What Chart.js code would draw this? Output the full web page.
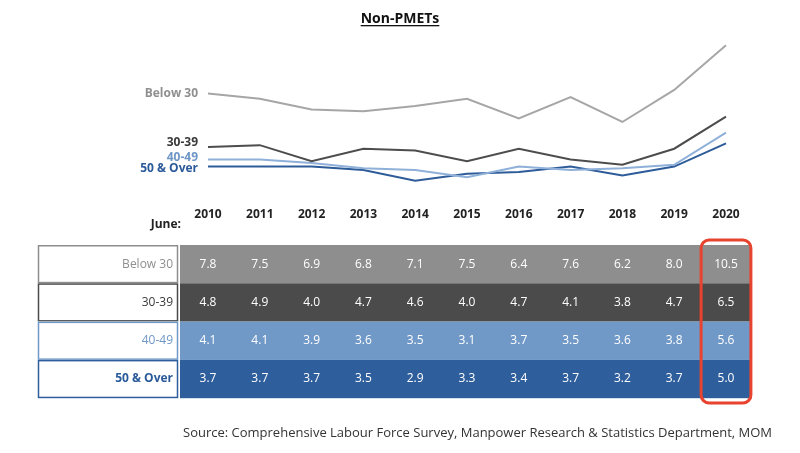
<!DOCTYPE html>
<html><head><meta charset="utf-8">
<script src="https://cdn.jsdelivr.net/npm/chart.js@4"></script>
<style>html,body{margin:0;padding:0;background:#fff}#w{position:relative;width:800px;height:453px}</style>
</head><body><div id="w"><canvas id="c" width="800" height="453"></canvas></div>
<script>
const years = ['2010','2011','2012','2013','2014','2015','2016','2017','2018','2019','2020'];
const seriesNames = ['Below 30','30-39','40-49','50 & Over'];
const below30 = [7.8,7.5,6.9,6.8,7.1,7.5,6.4,7.6,6.2,8.0,10.5];
const age3039 = [4.8,4.9,4.0,4.7,4.6,4.0,4.7,4.1,3.8,4.7,6.5];
const age4049 = [4.1,4.1,3.9,3.6,3.5,3.1,3.7,3.5,3.6,3.8,5.6];
const age50 = [3.7,3.7,3.7,3.5,2.9,3.3,3.4,3.7,3.2,3.7,5.0];
const lineColors = ['#a6a6a6','#4d4d4d','#8fb0d8','#2e5c99'];
const labelColors = ['#8f8f8f','#3a3a3a','#6f97c6','#2a5a9a'];
const rowColors = ['#8e8e8e','#4b4b4b','#7099c8','#2f5e9c'];
const allSeries = [below30, age3039, age4049, age50];

const deco = {
  id:'deco',
  afterDraw(chart){
    const ctx = chart.ctx, xs = chart.scales.x, ys = chart.scales.y;
    ctx.save();
    ctx.font = 'bold 14px "Open Sans"'; ctx.fillStyle = '#111'; ctx.textAlign='center'; ctx.textBaseline='alphabetic';
    ctx.fillText('Non-PMETs', 400, 23);
    const tw = ctx.measureText('Non-PMETs').width;
    ctx.fillRect(400-tw/2, 25, tw, 1.3);
    const offs = [0,-4,-2,2];
    ctx.textAlign='right'; ctx.textBaseline='middle';
    seriesNames.forEach((n,i)=>{
      ctx.font = 'bold 12px "Open Sans"'; ctx.fillStyle = labelColors[i];
      ctx.fillText(n, 198, ys.getPixelForValue(allSeries[i][0]) + offs[i]);
    });
    ctx.font='bold 12px "Open Sans"'; ctx.fillStyle='#222';
    ctx.fillText('June:', 181, 225);
    const top = 245, h = 38.3, step = xs.getPixelForValue(1)-xs.getPixelForValue(0);
    const x0 = 180, x1 = xs.getPixelForValue(10) + step/2;
    allSeries.forEach((arr,i)=>{
      const y = top + i*h;
      ctx.fillStyle = rowColors[i]; ctx.fillRect(x0, y, x1-x0, h);
      ctx.fillStyle='#fff'; ctx.fillRect(38,y,140,h);
      ctx.strokeStyle = rowColors[i]; ctx.lineWidth=1.5; ctx.strokeRect(38.5,y+0.75,139,h-1.5);
      ctx.textAlign='right'; ctx.font = (i===3?'bold ':'')+'12px "Open Sans"'; ctx.fillStyle = labelColors[i];
      ctx.fillText(seriesNames[i], 173, y+h/2);
      ctx.textAlign='center'; ctx.fillStyle='#fff'; ctx.font='12px "Open Sans"';
      arr.forEach((v,j)=> ctx.fillText(v.toFixed(1), xs.getPixelForValue(j), y+h/2));
    });
    const rx = xs.getPixelForValue(10)-step/2+1, ry=240, rw=step-2, rh=163;
    ctx.strokeStyle='#e8432e'; ctx.lineWidth=3;
    ctx.beginPath(); ctx.roundRect(rx,ry,rw,rh,8); ctx.stroke();
    ctx.textAlign='left'; ctx.fillStyle='#333'; ctx.font='13px "Open Sans"';
    ctx.fillText('Source: Comprehensive Labour Force Survey, Manpower Research & Statistics Department, MOM', 183, 433);
    ctx.restore();
  }
};

new Chart(document.getElementById('c'), {
  type:'line',
  data:{labels:years, datasets: allSeries.map((d,i)=>({label:seriesNames[i], data:d, borderColor:lineColors[i], borderWidth:2, pointRadius:0, tension:0}))},
  options:{
    responsive:false, animation:false,
    layout:{padding:{left:208,right:74,top:40,bottom:222}},
    plugins:{legend:{display:false},tooltip:{enabled:false}},
    scales:{
      x:{offset:false, grid:{display:false}, border:{display:false},
         ticks:{color:'#222', font:{family:'Open Sans',size:12,weight:'bold'}, padding:9, maxRotation:0, autoSkip:false}},
      y:{display:false, min:2.35, max:10.8}
    }
  },
  plugins:[deco]
});
</script></body></html>
